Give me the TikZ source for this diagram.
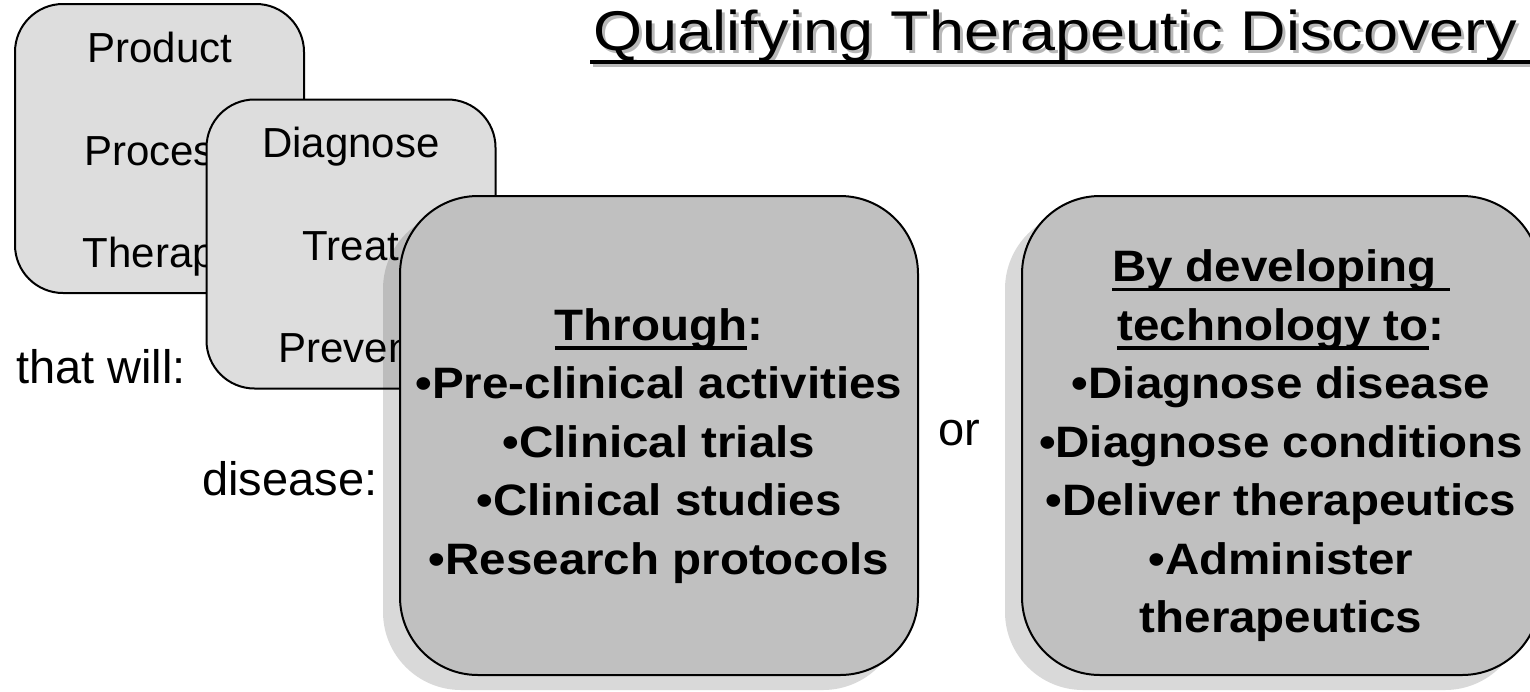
\documentclass[tikz,border=0pt]{standalone}
\usepackage{fontspec}
\setmainfont{Liberation Sans}
\newfontfamily\headfont[FakeStretch=1.125]{Liberation Sans}
\newfontfamily\listfont[FakeStretch=1.08]{Liberation Sans}
\usetikzlibrary{positioning, shadows}

\definecolor{lightbox}{RGB}{221,221,221}
\definecolor{darkbox}{RGB}{192,192,192}
\newcommand{\uln}[1]{\setbox0\hbox{#1}\rlap{\rule[-9.25pt]{\wd0}{3.5pt}}\box0}

\begin{document}
\begin{tikzpicture}[x=1pt, y=-1pt,
    smallbox/.style={draw, line width=2pt, fill=lightbox, rectangle, rounded corners=48pt, minimum width=289pt, minimum height=289pt},
    bigbox/.style={draw, line width=2pt, fill=darkbox, rectangle, rounded corners=78pt, minimum width=518pt, minimum height=479pt,
        drop shadow={shadow xshift=-17pt, shadow yshift=-15pt, fill=black, opacity=0.15}},
    word/.style={anchor=base, inner sep=0pt, font=\fontsize{42}{50}\selectfont},
    side/.style={anchor=base west, inner sep=0pt, font=\fontsize{47}{56}\selectfont},
    list/.style={align=center, inner sep=0pt, font=\listfont\bfseries\fontsize{44}{58.5}\selectfont},
    head/.style={anchor=base west, inner sep=0pt, font=\headfont\fontsize{56}{67}\selectfont}
]
    \useasboundingbox (0,0) rectangle (1530,691);

    \node[head, text=black!28] (headshadow) at (596,53) {Qualifying Therapeutic Discovery};
    \draw[line width=4pt, black!28] ([xshift=-3pt,yshift=-12pt]headshadow.base west) -- ([xshift=15pt,yshift=-12pt]headshadow.base east);
    \node[head] (head) at (593,50) {Qualifying Therapeutic Discovery};
    \draw[line width=4pt] ([xshift=-3pt,yshift=-12pt]head.base west) -- ([xshift=15pt,yshift=-12pt]head.base east);

    \node[smallbox] (prod) at (159.5,148.5) {};
    \node[word] (prodA) at (160,62) {Product};
    \node[word] (prodB) at (160,165) {Process};
    \node[word] (prodC) at (160,267) {Therapy};

    \node[smallbox] (diag) at (351,244) {};
    \node[word] (diagA) at (351,157) {Diagnose};
    \node[word] (diagB) at (351,260) {Treat};
    \node[word] (diagC) at (351,362) {Prevent};

    \node[side] (will) at (16,383) {that will:};
    \node[side] (dis) at (202,495) {disease:};

    \node[bigbox] (thru) at (659,435.5) {};
    \node[list] (thruT) at (659,446) {\uln{Through}:\\•Pre-clinical activities\\•Clinical trials\\•Clinical studies\\•Research protocols};

    \node[side] (or) at (938,445) {or};

    \node[bigbox] (tech) at (1281,435.5) {};
    \node[list] (techT) at (1281,446) {\uln{By developing }\\\uln{technology to}:\\•Diagnose disease\\•Diagnose conditions\\•Deliver therapeutics\\•Administer\\therapeutics};
\end{tikzpicture}
\end{document}
